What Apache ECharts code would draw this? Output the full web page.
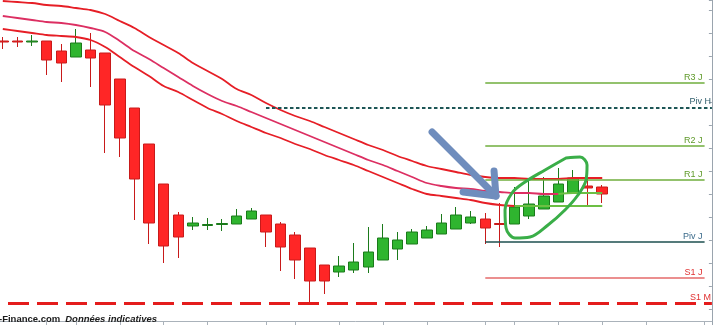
<!DOCTYPE html>
<html><head><meta charset="utf-8">
<script src="https://cdn.jsdelivr.net/npm/echarts@6/dist/echarts.min.js"></script>
<style>html,body{margin:0;padding:0;background:#fff}#c{width:714px;height:325px}</style>
</head><body><div id="c"></div>
<script>
// ---- data (price points) ----
const categories = ['1','2','3','4','5','6','7','8','9','10','11','12','13','14','15','16','17','18','19','20','21','22','23','24','25','26','27','28','29','30','31','32','33','34','35','36','37','38','39','40','41','42','43','44','45','46','47','48','49'];
const tickSlots = [3,5,8,11,14,18,20,23,26,29,33,35,38,41,44,48];
const opens  = [5466,5466,5465,5466,5456,5450,5457,5454,5428,5399,5363,5323,5292,5281,5281.5,5282.5,5283,5288,5292,5283,5272,5259,5242,5235,5237,5240,5247,5258,5263,5269,5273,5278,5284,5288,5283.5,5283,5291,5298,5305,5314,5321,5320];
const closes = [5465,5465,5466,5447,5444,5464,5449,5402,5369,5328,5284,5261,5270,5284,5282.5,5283.5,5291,5296,5275,5260,5247,5226,5226,5241,5245,5255,5269,5267,5275,5277,5284,5292,5290,5279,5282.5,5300,5303,5311,5323,5329,5319,5313];
const lows   = [5458,5460,5461,5432,5425,5450,5420,5354,5350,5287,5263,5244,5249,5277,5277,5276,5283,5288,5260,5236,5228,5202,5213,5230,5234,5234,5247,5247,5263,5269,5273,5278,5283,5263,5260,5283,5288,5298,5305,5314,5300,5304];
const highs  = [5470,5470,5472,5466,5463,5478,5474,5454,5428,5399,5363,5323,5295,5290,5289,5288,5298,5299,5292,5285,5275,5259,5242,5251,5264,5280,5283,5275,5278,5281,5293,5300,5296,5294,5304,5320,5326,5330,5339,5337,5332,5322];
const maTop  = [5506,5505,5504,5502,5501,5499,5497,5493,5486,5479,5470,5462,5454,5444,5436,5428,5418,5412,5404,5397,5391,5386,5380,5374,5368,5362,5357,5351,5346,5341,5338,5335,5332,5330,5329,5329,5328,5328,5328,5329,5329,5329];
const maMid  = [5491,5489,5487,5485,5484,5482,5479,5475,5466,5456,5448,5439,5430,5421,5413,5406,5401,5395,5389,5383,5377,5371,5365,5359,5353,5347,5342,5336,5330,5324,5321,5319,5318,5316,5315,5314,5314,5313,5313,5314,5314,5314];
const maLow  = [5478,5476,5474,5472,5471,5470,5467,5460,5450,5440,5431,5421,5415,5407,5399,5393,5386,5380,5374,5369,5363,5358,5352,5347,5342,5336,5330,5324,5318,5313,5311,5309,5307,5304,5302,5301,5301,5301,5301,5301,5301,5301];
const midTurnsGreenAt = 38;
const lowTurnsGreenAt = 35;
const pivNames  = ['R3 J','Piv H','R2 J','R1 J','Piv J','S1 J','S1 M'];
const pivValues = [5424,5399,5361,5327,5265,5229,5204];
const pivFrom   = [33,18,33,33,33,33,-0.5];
const pivTo     = [48,48.5,48,48,48,48,48.5];
// annotations (slot index, price)
const arrowShaft = [[29.36,5375],[33.73,5311]];
const arrowHead  = [[33.60,5336],[33.73,5311],[31.48,5315]];
const loopPts = [[38.52,5349],[39.48,5350],[39.96,5342],[39.89,5327],[39.34,5312],[38.45,5297],[37.29,5282],[36.06,5270],[35.03,5269],[34.42,5279],[34.35,5297],[34.83,5314],[35.72,5325],[37.09,5337],[38.52,5349]];

// ---- styles ----
const pivStyles = [
  {c:'#6fae3c', t:'#5f9a2a', w:1.5, type:'solid', d:[2,1]},
  {c:'#1d5656', t:'#33606e', w:2, type:[3.5,2.5], d:[1,2]},
  {c:'#6fae3c', t:'#5f9a2a', w:1.5, type:'solid', d:[2,1]},
  {c:'#6fae3c', t:'#5f9a2a', w:1.5, type:'solid', d:[2,1]},
  {c:'#1d4f4f', t:'#3a6a8a', w:1.5, type:'solid', d:[2,1]},
  {c:'#e46a6a', t:'#e03030', w:1.5, type:'solid', d:[2,1]},
  {c:'#e41c1c', t:'#e03030', w:3.2, type:[21,8], d:[1,1], off:16.5}
];

const candleData = opens.map((o,i)=>[o, closes[i], lows[i], highs[i]]);
const midRed = maMid.map((v,i)=> i<=midTurnsGreenAt ? v : '-');
const midGreen = maMid.map((v,i)=> i>=midTurnsGreenAt ? v : '-');
const lowRed = maLow.map((v,i)=> i<=lowTurnsGreenAt ? v : '-');
const lowGreen = maLow.map((v,i)=> i>=lowTurnsGreenAt ? v : '-');

const markData = pivNames.map((n,i)=>{
  const s = pivStyles[i];
  return [{name:n, coord:[pivFrom[i], pivValues[i]],
    lineStyle:{color:s.c, width:s.w, type:s.type, dashOffset:s.off||0},
    label:{show:true, position:'insideEndTop', formatter:'{b}', color:s.t, fontSize:9, fontFamily:'Arial', distance:s.d}},
    {coord:[pivTo[i], pivValues[i]]}];
});

function maLine(data, color){
  return {type:'line', data:data, symbol:'none', smooth:0.3, z:3, silent:true,
    lineStyle:{color:color, width:1.8}};
}

const chart = echarts.init(document.getElementById('c'));
chart.setOption({
  animation:false,
  backgroundColor:'#ffffff',
  title:{text:'{a|-Finance.com} {b|Données indicatives}', left:-1, top:310, padding:0,
    textStyle:{rich:{a:{fontFamily:'Arial', fontSize:9.5, color:'#1a1a1a', lineHeight:12},
                     b:{fontFamily:'Arial', fontSize:9.5, fontStyle:'italic', color:'#1a1a1a', lineHeight:12}}}},
  grid:{left:-4.5, right:2.1, top:0, bottom:-7, outerBoundsMode:'none', containLabel:false},
  xAxis:[
    {type:'category', data:categories, boundaryGap:true, offset:-11,
     axisLine:{show:true, onZero:false, lineStyle:{color:'#aab2ba'}},
     axisTick:{show:true, alignWithLabel:true, length:4, interval:(i)=>tickSlots.includes(i), lineStyle:{color:'#aab2ba'}},
     axisLabel:{show:false}, splitLine:{show:false}},
    {type:'value', min:-0.5, max:48.5, show:false, axisLine:{onZero:false}}
  ],
  yAxis:{type:'value', position:'right', min:5175, max:5507, interval:23,
    axisLine:{show:true, onZero:false, lineStyle:{color:'#9aa4ae'}},
    axisTick:{show:true, inside:true, length:3, lineStyle:{color:'#9aa4ae'}},
    axisLabel:{show:false}, splitLine:{show:false}},
  series:[
    {type:'line', xAxisIndex:1, data:[], symbol:'none', z:1, silent:true,
     markLine:{symbol:['none','none'], silent:true, animation:false, data:markData}},
    {type:'candlestick', data:candleData, barWidth:11, z:2,
     itemStyle:{color:'#2fb52f', color0:'#ff2626', borderColor:'#1b7a1b', borderColor0:'#c81a1a', borderWidth:1}},
    maLine(maTop, '#e61e26'),
    maLine(midRed, '#dc2f62'),
    maLine(midGreen, '#6cbf44'),
    maLine(lowRed, '#e61e26'),
    maLine(lowGreen, '#6cbf44'),
    {type:'line', xAxisIndex:1, data:arrowShaft, symbol:'none', z:5, silent:true,
     lineStyle:{color:'#6f8dbd', width:7, cap:'round', join:'round'}},
    {type:'line', xAxisIndex:1, data:arrowHead, symbol:'none', z:5, silent:true,
     lineStyle:{color:'#6f8dbd', width:7, cap:'round', join:'round'}},
    {type:'line', xAxisIndex:1, data:loopPts, symbol:'none', smooth:0.35, z:6, silent:true,
     lineStyle:{color:'#3aae48', width:3, cap:'round', join:'round'}}
  ]
});
</script>
</body></html>
